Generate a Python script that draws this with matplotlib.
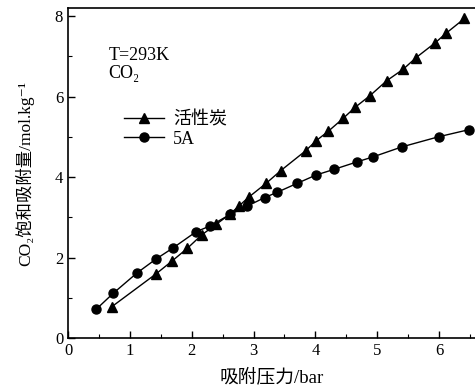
import matplotlib
matplotlib.use("Agg")
import matplotlib.pyplot as plt
from matplotlib.ticker import MultipleLocator

plt.rcParams['font.family'] = ['Liberation Serif', 'Noto Sans CJK SC', 'DejaVu Serif']

ac_x = [0.71, 1.42, 1.68, 1.93, 2.16, 2.40, 2.62, 2.77, 2.93, 3.20, 3.44, 3.84,
        4.01, 4.21, 4.45, 4.64, 4.88, 5.15, 5.42, 5.63, 5.94, 6.11, 6.41]
ac_y = [0.78, 1.59, 1.91, 2.23, 2.56, 2.83, 3.08, 3.29, 3.51, 3.84, 4.16, 4.65,
        4.90, 5.14, 5.46, 5.73, 6.02, 6.39, 6.68, 6.97, 7.34, 7.57, 7.94]
a5_x = [0.46, 0.73, 1.11, 1.42, 1.69, 2.07, 2.29, 2.62, 2.90, 3.18, 3.38, 3.70,
        4.01, 4.30, 4.68, 4.93, 5.40, 5.99, 6.49]
a5_y = [0.72, 1.11, 1.61, 1.96, 2.23, 2.64, 2.78, 3.07, 3.28, 3.49, 3.62, 3.84,
        4.05, 4.19, 4.38, 4.50, 4.75, 5.00, 5.18]
labels = ['活性炭', '5A']

fig = plt.figure(figsize=(4.75, 3.89), dpi=100)
ax = fig.add_axes([0.1432, 0.1311, 0.8568, 0.8483])

ax.plot(ac_x, ac_y, color='black', lw=1.0, marker='^', ms=6.5, label=labels[0])
ax.plot(a5_x, a5_y, color='black', lw=1.0, marker='o', ms=6.5, label=labels[1])

ax.set_xlim(0, 6.58)
ax.set_ylim(0, 8.2)
ax.xaxis.set_major_locator(MultipleLocator(1))
ax.xaxis.set_minor_locator(MultipleLocator(0.5))
ax.yaxis.set_major_locator(MultipleLocator(2))
ax.yaxis.set_minor_locator(MultipleLocator(1))
ax.tick_params(which='both', direction='in', top=False, right=False, labelsize=12, colors='black')
ax.tick_params(which='major', length=5, width=1)
ax.tick_params(which='minor', length=3, width=0.8)
ax.spines['right'].set_visible(False)
for s in ['left', 'bottom', 'top']:
    ax.spines[s].set_linewidth(1.2)

ax.set_xlabel('吸附压力/bar', fontsize=13.5, labelpad=7)
ax.set_ylabel('CO₂饱和吸附量/mol.kg⁻¹', fontsize=12.5, labelpad=15)

ax.text(0.65, 7.03, 'T=293K', fontsize=13, va='center')
ax.text(0.65, 6.58, 'CO₂', fontsize=13, va='center')

ax.legend(loc='upper left', bbox_to_anchor=(0.12, 0.71), frameon=False,
          fontsize=13, handlelength=2.2, handletextpad=0.5, labelspacing=0.15,
          borderaxespad=0)

fig.savefig('out.png', dpi=100)
